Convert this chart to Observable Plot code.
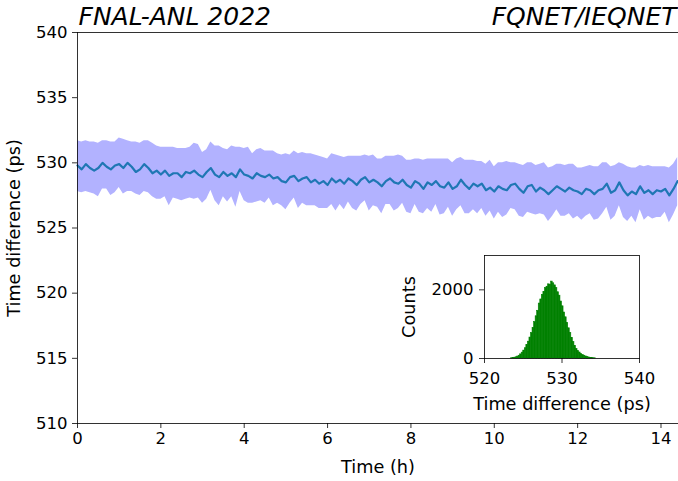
<!DOCTYPE html>
<html>
<head>
<meta charset="utf-8">
<script src="https://cdn.jsdelivr.net/npm/d3@7"></script>
<script src="https://cdn.jsdelivr.net/npm/@observablehq/plot@0.6"></script>
<style>
  html, body { margin: 0; padding: 0; background: white; }
  #wrap { position: relative; width: 678px; height: 481px; }
  #wrap svg { position: absolute; overflow: visible; }
</style>
</head>
<body>
<div id="wrap"></div>
<script>
// ---- main series: sampled every 0.1 h from 0 h ----
const sampleStep = 0.1;
const meanDiff = [
  529.8,529.5,529.9,529.6,529.4,529.6,530.0,529.7,529.5,529.8,529.9,529.6,530.0,529.7,529.3,529.5,529.9,529.6,529.2,529.4,529.1,529.4,529.0,529.2,
  529.2,528.9,529.3,529.2,529.4,529.1,528.9,529.3,529.6,529.1,528.9,529.3,529.0,529.2,528.9,529.5,529.1,529.0,528.8,529.2,529.0,528.9,529.1,528.8,
  528.9,528.6,528.5,528.9,529.0,528.6,528.8,528.9,528.5,528.7,528.4,528.6,528.3,528.8,528.5,528.7,528.4,528.8,528.6,528.3,528.7,528.9,528.5,528.7,
  528.5,528.2,528.6,528.8,528.5,528.4,528.7,528.3,528.1,528.6,528.4,528.0,528.5,528.3,528.6,528.2,528.1,528.5,528.0,528.2,528.7,528.3,528.0,528.4,
  528.2,528.4,527.9,528.1,527.8,528.2,528.0,527.9,528.3,528.4,528.0,527.7,528.2,528.3,527.8,528.1,527.9,527.6,527.9,528.2,528.0,527.8,528.1,527.9,
  527.8,527.6,528.0,527.9,527.6,527.9,528.0,528.4,527.7,527.9,528.5,527.9,527.5,527.8,527.6,528.2,527.7,527.9,527.6,527.9,527.8,528.0,527.5,528.0,528.6
];
const spreadUp = [
  1.9,2.1,1.8,2.0,2.2,1.9,1.7,2.0,2.1,1.8,2.0,2.2,1.7,1.9,2.3,2.0,1.8,2.1,2.3,1.9,2.1,1.8,2.2,2.0,
  1.9,2.2,1.8,2.0,2.1,2.3,1.9,1.7,2.0,2.2,2.4,1.8,2.0,2.1,2.3,1.7,2.0,2.2,1.9,1.8,2.1,2.0,1.8,2.1,
  1.8,2.0,2.2,1.7,1.9,2.1,2.0,1.8,2.2,1.9,2.1,1.8,2.0,1.9,2.1,1.8,2.0,1.7,1.9,2.2,1.8,1.7,2.0,1.9,
  1.8,2.1,1.9,1.7,2.0,2.2,1.8,1.9,2.1,1.7,1.9,2.2,1.8,2.0,1.7,2.1,2.2,1.8,2.0,2.1,1.7,1.9,2.2,1.8,
  1.9,1.7,2.0,2.1,1.9,1.8,2.0,2.2,1.7,1.6,1.9,2.1,1.8,1.7,2.0,1.8,2.1,2.0,1.8,1.7,1.9,2.0,1.8,2.0,
  1.8,2.0,1.7,1.9,2.1,1.8,2.0,1.6,2.0,1.9,1.5,2.0,2.2,1.8,2.0,1.6,2.0,1.9,2.1,1.8,1.9,1.7,2.1,1.9,1.8
];
const spreadDown = [
  2.0,1.8,2.1,1.9,1.8,2.2,2.0,1.7,2.0,2.1,1.8,2.0,2.2,1.9,1.7,2.0,2.1,1.9,1.8,2.2,1.9,2.0,2.3,1.9,
  2.0,1.8,2.1,1.9,2.2,1.8,2.0,2.1,1.7,2.0,2.2,1.9,2.0,1.8,2.3,1.7,2.0,2.1,1.9,2.2,1.9,2.0,1.8,2.1,
  2.0,1.9,2.1,2.0,1.7,2.1,1.9,2.2,1.8,2.0,1.9,2.1,1.8,2.0,2.2,1.9,2.0,1.8,2.1,2.0,1.9,1.8,2.2,2.0,
  1.9,2.1,1.8,2.0,2.2,1.9,1.8,2.1,2.0,1.8,2.2,1.9,2.0,2.1,1.8,2.2,2.0,1.9,2.1,1.8,2.0,2.2,1.9,2.0,
  2.1,1.9,2.0,1.8,2.1,2.0,2.2,1.9,1.8,2.0,2.1,1.9,2.0,2.2,1.8,2.0,1.9,2.1,2.0,1.8,2.1,1.9,2.0,2.2,
  1.9,2.0,2.1,1.8,2.0,2.2,1.9,1.8,2.1,2.0,1.8,2.1,2.0,1.9,2.2,1.8,2.1,2.0,1.9,2.1,2.0,1.8,2.1,2.0,1.9
];
const xTicks = [0, 2, 4, 6, 8, 10, 12, 14];
const yTicks = [510, 515, 520, 525, 530, 535, 540];

// ---- inset histogram: bins of 0.2 ps starting at 523.4 ps ----
const binStart = 523.4;
const binWidth = 0.2;
const binCounts = [
  5,12,22,35,55,80,120,170,230,300,390,490,610,740,890,1060,1230,1390,1600,1720,
  1850,1940,2050,2090,2160,2150,2240,2190,2130,2050,1930,1830,1660,1520,1340,1200,
  1040,880,740,600,480,370,280,215,175,130,105,80,60,42,30,20,13,8,4
];
const insetXTicks = [520, 530, 540];
const insetYTicks = [0, 2000];

const rows = meanDiff.map((m, i) => ({
  t: Math.round(i * sampleStep * 10) / 10,
  m,
  hi: m + spreadUp[i],
  lo: m - spreadDown[i]
}));
const bins = binCounts.map((c, i) => ({
  x1: binStart + i * binWidth,
  x2: binStart + (i + 1) * binWidth,
  c
}));

const font = "DejaVu Sans, sans-serif";
const fs = 16.5;   // tick labels
const ls = 17.7;   // axis labels

const main = Plot.plot({
  width: 678, height: 481,
  marginLeft: 77, marginRight: 0, marginTop: 32, marginBottom: 58,
  style: { fontFamily: font, fontSize: fs + "px", color: "black", background: "transparent" },
  x: { domain: [0, 14.42] },
  y: { domain: [510, 540] },
  marks: [
    Plot.areaY(rows, { x: "t", y1: "lo", y2: "hi", fill: "#b2b2ff", curve: "linear" }),
    Plot.lineY(rows, { x: "t", y: "m", stroke: "#1f77b4", strokeWidth: 2.2 }),
    Plot.frame({ stroke: "black", strokeWidth: 0.8 }),
    Plot.axisX({ ticks: xTicks, tickSize: 5, tickPadding: 4, label: null, strokeWidth: 0.8, fontSize: fs }),
    Plot.axisY({ ticks: yTicks, tickSize: 5, tickPadding: 5, label: null, strokeWidth: 0.8, fontSize: fs }),
    Plot.text(["Time (h)"], { frameAnchor: "bottom", lineAnchor: "middle", dy: 44, fontSize: ls }),
    Plot.text(["Time difference (ps)"], { frameAnchor: "left", textAnchor: "middle", lineAnchor: "middle", dx: -63, rotate: -90, fontSize: ls }),
    Plot.text(["FNAL-ANL 2022"], { frameAnchor: "top-left", textAnchor: "start", lineAnchor: "top", dx: 1, dy: -25, fontSize: 25, fontStyle: "italic" }),
    Plot.text(["FQNET/IEQNET"], { frameAnchor: "top-right", textAnchor: "end", lineAnchor: "top", dx: -2, dy: -25, fontSize: 25, fontStyle: "italic" })
  ]
});
main.style.left = "0px";
main.style.top = "0px";

const inset = Plot.plot({
  width: 270, height: 175,
  marginLeft: 94, marginRight: 21, marginTop: 10, marginBottom: 62,
  style: { fontFamily: font, fontSize: fs + "px", color: "black", background: "transparent" },
  x: { domain: [520, 540] },
  y: { domain: [0, 3000] },
  marks: [
    Plot.rect(bins, { x1: "x1", x2: "x2", y1: 0, y2: "c", fill: "green", stroke: "green", strokeWidth: 0.6 }),
    Plot.frame({ stroke: "black", strokeWidth: 0.8 }),
    Plot.axisX({ ticks: insetXTicks, tickSize: 5, tickPadding: 9, label: null, strokeWidth: 0.8, fontSize: fs, tickFormat: d => String(d) }),
    Plot.axisY({ ticks: insetYTicks, tickSize: 5, tickPadding: 6, label: null, strokeWidth: 0.8, fontSize: fs, tickFormat: d => String(d) }),
    Plot.text(["Time difference (ps)"], { frameAnchor: "bottom", lineAnchor: "middle", dy: 46, fontSize: ls }),
    Plot.text(["Counts"], { frameAnchor: "left", textAnchor: "middle", lineAnchor: "middle", dx: -75, rotate: -90, fontSize: ls })
  ]
});
inset.style.left = "390px";
inset.style.top = "245px";

const wrap = document.getElementById("wrap");
wrap.appendChild(main);
wrap.appendChild(inset);
</script>
</body>
</html>
